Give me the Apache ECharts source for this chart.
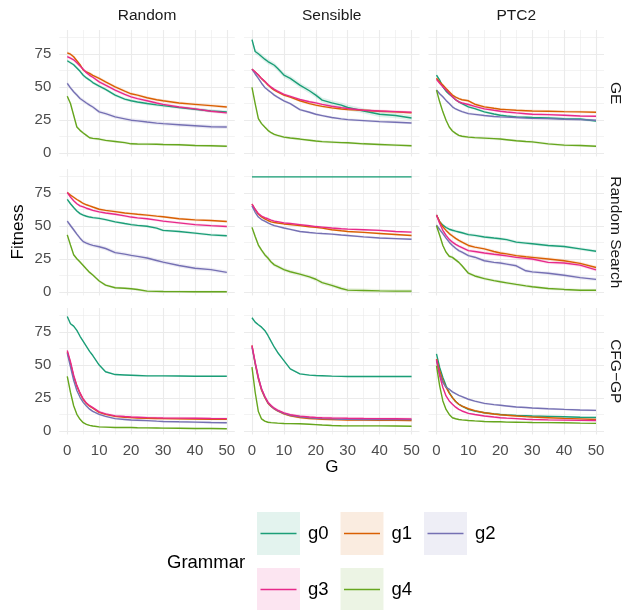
<!DOCTYPE html>
<html><head><meta charset="utf-8">
<script src="https://cdn.jsdelivr.net/npm/echarts@6/dist/echarts.min.js"></script>
<style>html,body{margin:0;padding:0;background:#fff}#c{width:625px;height:610px}</style>
</head><body><div id="c"></div>
<script>
// ---------- data ----------
const generations = [0,1,2,3,4,5,6,7,8,10,12,15,18,20,22,25,28,30,35,40,45,50];
const grammars = ['g0','g1','g2','g3','g4'];
const colors = ['#1B9E77','#D95F02','#7570B3','#E7298A','#66A61E'];
const initMethods = ['Random','Sensible','PTC2'];
const algorithms = ['GE','Random Search','CFG\u2212GP'];
const xTicks = [0,10,20,30,40,50];
const xMinor = [5,15,25,35,45];
const yTicks = [0,25,50,75];
const yMinor = [12.5,37.5,62.5,87.5];

// GE
const ge_random_g0 = [70,68.5,67,64.5,62,59,57,55.4,53.5,50.8,48.3,44,41,39.7,38.8,37.6,36.6,36,34.6,33.3,32,31.3];
const ge_random_g1 = [76,75,73,70,67,63,61.5,60.5,59,56.7,54,50.3,47,45,44,42,40.5,39.7,38,37,36,35];
const ge_random_g2 = [52.9,49.5,46.5,44,41.4,39.7,38,36.4,35,31.3,30,27.5,26,25,24.5,23.6,22.8,22.4,21.6,20.8,20,19.8];
const ge_random_g3 = [73.2,72,70.7,68.5,66,63.6,61,59,57.5,54,51.5,47.8,44.5,42.7,41.3,39.7,38,37,35,33.6,31.8,30.5];
const ge_random_g4 = [43.2,37.6,28.7,19.8,17.3,15.3,13.5,11.7,11.2,10.7,9.7,8.9,8,7.1,7,6.9,6.8,6.6,6.4,5.8,5.6,5.3];
const ge_random_band = [1.2,1.2,1.5,1.2,1];

const ge_sensible_g0 = [86,77,75.3,73.2,71.2,69.4,68,66.6,64.3,59.2,56.7,51.6,47.3,44,40.2,38.1,36.4,34.6,32,29.5,28.5,26.7];
const ge_sensible_g1 = [63.6,61.5,59.2,56.5,54.2,51.6,49.5,47.8,46.5,44,42.5,39.7,37.5,36.4,35.5,34.3,33.5,33,32.5,31.8,31.3,30.5];
const ge_sensible_g2 = [63.6,60,56.7,53,49.8,47.8,46,44,42.5,39.7,37.5,33,31,29.5,28.5,27,26,25.4,24.7,23.9,23.4,22.9];
const ge_sensible_g3 = [63.6,61.5,59.2,56.5,54.5,52,50,48.3,47,44.5,43,40.7,39,38.1,37,35.6,34.5,33.8,32.5,32,31.5,31];
const ge_sensible_g4 = [49.8,37.6,26.2,22.4,19.8,17.3,15.5,14.2,13.5,12.2,11.5,10.7,9.8,9.2,8.8,8.4,8,7.9,7.1,6.6,6.1,5.6];
const ge_sensible_band = [2,1,1,1,1];

const ge_ptc2_g0 = [59.2,55.4,50.3,47,44.7,42.7,40.5,38.9,37.5,35.1,33.8,31.3,29.7,28.7,28.2,27.5,27.2,27,26.7,26.2,25.9,24.4];
const ge_ptc2_g1 = [56.7,54,51.6,49,46.5,44,42.5,41.4,40.5,39.7,37.1,35.1,34,33.3,33,32.5,32.2,32,31.8,31.5,31.3,31];
const ge_ptc2_g2 = [47.8,45,42.7,40,37.6,35.1,33.5,32.5,31.5,30,29.4,28.5,27.8,27.5,27.3,27,26.6,26.4,26.2,25.7,25.4,24.9];
const ge_ptc2_g3 = [55.9,53,50.3,47.8,45.3,42.7,40.5,38.9,38,36.9,35.5,33.6,32.5,31.8,31.2,30.5,29.9,29.5,29.2,28.7,28.2,28];
const ge_ptc2_g4 = [47.8,38.9,31.3,24.9,19.8,16.8,15,13.5,12.8,12.2,11.8,11.4,11,10.7,10.2,9.4,8.9,8.6,7.1,6.1,5.8,5.3];
const ge_ptc2_band = [1,1,1,1,1];

// Random Search
const rs_random_g0 = [70.3,67,64.1,61.5,59.5,58.4,57.5,56.9,56.5,55.9,55,53.3,52,51.2,50.6,49.9,48.5,46.8,46,44.7,43.4,42.7];
const rs_random_g1 = [75.5,73.5,71.9,70.2,68.8,67.2,66.2,65.4,64.5,62.8,62,61,60,59.5,59,58.4,57.6,57.1,55.6,54.8,54.3,53.5];
const rs_random_g2 = [53.8,50.5,47.3,44,40.9,38.3,37.2,36.2,35.5,34.4,33.1,30,28.8,27.9,27.1,25.9,24,22.8,20.2,18.1,17.1,15];
const rs_random_g3 = [75.5,72,69.3,67,65.4,64.6,63.6,62.8,62,60.8,60,59,57.8,56.9,56.3,55.6,54.6,53.8,52.5,51.2,50.4,49.7];
const rs_random_g4 = [43.4,35.7,28.4,25.3,22.8,20.2,17.5,15,13,8.5,5.4,3.4,3,2.6,2,0.8,0.6,0.5,0.4,0.3,0.3,0.3];
const rs_random_band = [1,1,1.5,1,1];

const rs_sensible_g0 = [87.3,87.3,87.3,87.3,87.3,87.3,87.3,87.3,87.3,87.3,87.3,87.3,87.3,87.3,87.3,87.3,87.3,87.3,87.3,87.3,87.3,87.3];
const rs_sensible_g1 = [66.7,62.5,59,57,55.6,54.3,53.3,52.8,52.4,51.7,51.2,50.4,49.6,49.1,48.5,47.3,46.5,46,45.3,44.5,43.7,42.9];
const rs_sensible_g2 = [65.4,60.5,56.9,55,53.8,52.5,51.4,50.4,49.8,48.6,47.6,46,45.2,44.7,44.4,44,43.3,42.9,41.9,41.1,40.6,40.1];
const rs_sensible_g3 = [66.7,62.8,59.5,57.7,56.4,55.6,54.6,53.8,53.4,52.5,52,51.2,50.3,49.7,49.3,48.6,48.1,47.8,47.3,46.8,46,45.5];
const rs_sensible_g4 = [49.1,42.2,35.7,31.8,28.4,25.9,22.8,20.7,19.5,17.1,15.5,13.7,11.6,9.8,7.2,5.2,2.8,1.6,1.3,1,0.8,0.8];
const rs_sensible_band = [0.4,0.8,0.8,0.8,1.5];

const rs_ptc2_g0 = [58.5,53.3,50.8,49,47.7,46.9,46.2,45.6,45,43.6,43,41.8,41,40.5,39.8,37.9,37.2,36.7,35.4,34.6,32.8,31];
const rs_ptc2_g1 = [58.5,53.5,49.5,46.8,44.4,42.6,40.8,39.2,38,35.4,34.1,32.8,30.8,29.7,29,27.7,26.8,26.4,25.1,23.8,21.8,18.7];
const rs_ptc2_g2 = [50.8,47.5,44.4,41,37.9,35.4,33.3,31.5,30.3,27.7,26.5,23.8,22.6,22.1,21.3,20,16.2,15.4,14.4,12.8,11,9.7];
const rs_ptc2_g3 = [58.5,52,46.9,43,40,37.9,36.2,34.9,33.8,31.5,30.8,29.7,28.7,28.2,27.5,26.4,25.6,25.1,22.6,22.1,20.5,16.9];
const rs_ptc2_g4 = [50.3,43.1,35.4,30.3,27.2,26.4,24.5,22.6,20,14.4,12.3,10.3,8.8,7.9,7.1,5.9,4.8,4.1,2.8,2.1,1.5,1.5];
const rs_ptc2_band = [1.2,1.3,1.3,1.3,1.2];

// CFG-GP
const cfg_random_g0 = [86.8,81.4,79.6,76.3,71.9,68.1,64.2,60.4,57.3,50.1,45,42.9,42.6,42.4,42.2,41.9,41.9,41.9,41.8,41.6,41.6,41.6];
const cfg_random_g1 = [60,51.5,41.5,34,28.5,24,21,19,17.5,14.2,12.7,11.2,10.5,10.3,10,9.8,9.6,9.5,9.3,9.2,9.1,9];
const cfg_random_g2 = [59.1,48.8,38.5,30.8,25.7,21.8,19,16.7,15,12.8,11.2,9.5,8.9,8.5,8.3,8,7.6,7.4,7.1,6.9,6.6,6.4];
const cfg_random_g3 = [61.1,52.7,42.4,34.7,29,24.4,21.3,19.3,17.8,14.6,13.1,11.6,11.1,10.8,10.6,10.3,10.1,10,9.9,9.8,9.6,9.5];
const cfg_random_g4 = [41.6,29.5,19.3,12.8,9,6.4,5.2,4.4,3.9,3.3,3.1,2.8,2.8,2.8,2.6,2.5,2.4,2.3,2.2,2.1,2,1.8];
const cfg_random_band = [0.6,0.9,0.9,1,0.6];

const cfg_sensible_g0 = [85.9,82.6,80.6,78.8,76.3,72.5,68,63.6,59.8,53.5,47.2,43.4,42.5,42.2,42,41.7,41.5,41.4,41.4,41.4,41.4,41.4];
const cfg_sensible_g1 = [64.9,51,39.5,31,25.5,21.2,18.7,16.8,15.4,13.2,11.7,10.4,9.6,9.3,9,8.8,8.6,8.5,8.4,8.3,8.2,8.1];
const cfg_sensible_g2 = [63.5,51.5,40.5,31.8,26.2,21.6,19,17,15.6,13.5,12.1,10.9,10.1,9.8,9.5,9.3,9.1,9,8.9,8.9,8.8,8.8];
const cfg_sensible_g3 = [64.9,52.3,40.9,32.1,26.5,22,19.4,17.4,16,13.9,12.5,11.4,10.7,10.4,10.2,10,9.9,9.8,9.6,9.5,9.4,9.3];
const cfg_sensible_g4 = [48.5,29.5,14.9,9.3,7.6,6.8,6.5,6.3,6.1,5.8,5.7,5.6,5.3,5,4.7,4.3,4.1,4,4,4,3.9,3.8];
const cfg_sensible_band = [0.6,0.9,0.9,1.1,0.6];

const cfg_ptc2_g0 = [58.5,48.3,40.7,34.4,29.3,25.4,22.5,20.4,19,16.5,15.2,14,13.1,12.7,12.4,12,11.7,11.5,11.2,10.9,10.6,10.4];
const cfg_ptc2_g1 = [54.7,45.8,38.2,33.1,28.8,25.4,22.5,20.4,19,17,15.6,14,13,12.5,12.1,11.5,11,10.7,10.2,9.7,9.3,8.9];
const cfg_ptc2_g2 = [53.4,43.3,36.9,33.1,31.8,29.8,28.4,27.2,26.2,24.2,22.8,21.1,20.1,19.6,19.1,18.3,17.9,17.6,17,16.5,16.1,15.8];
const cfg_ptc2_g3 = [54.2,42,33.1,26.7,22.9,20.4,18.2,16.5,15.3,13.5,12.6,11.5,10.7,10.2,9.9,9.5,9.1,8.9,8.6,8.4,8.2,8.1];
const cfg_ptc2_g4 = [49.6,34.4,22.9,16.5,12.7,10.2,9.4,8.9,8.6,8.1,7.8,7.4,7.2,7.1,6.9,6.8,6.7,6.6,6.5,6.4,6.1,5.9];
const cfg_ptc2_band = [0.8,0.8,0.8,0.8,0.6];

// ---------- assemble ----------
const panels = [
  [[ge_random_g0,ge_random_g1,ge_random_g2,ge_random_g3,ge_random_g4], ge_random_band],
  [[ge_sensible_g0,ge_sensible_g1,ge_sensible_g2,ge_sensible_g3,ge_sensible_g4], ge_sensible_band],
  [[ge_ptc2_g0,ge_ptc2_g1,ge_ptc2_g2,ge_ptc2_g3,ge_ptc2_g4], ge_ptc2_band],
  [[rs_random_g0,rs_random_g1,rs_random_g2,rs_random_g3,rs_random_g4], rs_random_band],
  [[rs_sensible_g0,rs_sensible_g1,rs_sensible_g2,rs_sensible_g3,rs_sensible_g4], rs_sensible_band],
  [[rs_ptc2_g0,rs_ptc2_g1,rs_ptc2_g2,rs_ptc2_g3,rs_ptc2_g4], rs_ptc2_band],
  [[cfg_random_g0,cfg_random_g1,cfg_random_g2,cfg_random_g3,cfg_random_g4], cfg_random_band],
  [[cfg_sensible_g0,cfg_sensible_g1,cfg_sensible_g2,cfg_sensible_g3,cfg_sensible_g4], cfg_sensible_band],
  [[cfg_ptc2_g0,cfg_ptc2_g1,cfg_ptc2_g2,cfg_ptc2_g3,cfg_ptc2_g4], cfg_ptc2_band]
];

const FONT = '"Liberation Sans", Arial, sans-serif';
const colLeft = [59.3, 244, 428.5];
const rowTop = [30, 169, 308];
const panelW = 175.5, panelH = 126.5;
const X_MIN = -2.5, X_MAX = 52.5, Y_MIN = -2.5, Y_MAX = 93.3;

function hexA(hex, a) {
  const n = parseInt(hex.slice(1), 16);
  return `rgba(${(n>>16)&255},${(n>>8)&255},${n&255},${a})`;
}

const grid = [], xAxis = [], yAxis = [], series = [];
panels.forEach((panel, p) => {
  const r = Math.floor(p / 3), c = p % 3;
  grid.push({left: colLeft[c], top: rowTop[r], width: panelW, height: panelH, containLabel: false});
  const gridLine = {show: true, lineStyle: {color: '#EBEBEB', width: 1.1}};
  const minorLine = {show: true, lineStyle: {color: '#EBEBEB', width: 0.6}};
  xAxis.push({gridIndex: p, type: 'value', min: X_MIN, max: X_MAX,
    axisLine: {show: false}, axisTick: {show: false, customValues: xTicks},
    axisLabel: {show: r === 2, customValues: xTicks, color: '#4D4D4D', fontSize: 15, fontFamily: FONT, margin: 9},
    splitLine: gridLine, z: 0});
  xAxis.push({gridIndex: p, type: 'value', min: X_MIN, max: X_MAX, position: 'bottom',
    axisLine: {show: false}, axisTick: {show: false, customValues: xMinor},
    axisLabel: {show: false, customValues: xMinor}, splitLine: minorLine, z: 0});
  yAxis.push({gridIndex: p, type: 'value', min: Y_MIN, max: Y_MAX,
    axisLine: {show: false}, axisTick: {show: false, customValues: yTicks},
    axisLabel: {show: c === 0, customValues: yTicks, color: '#4D4D4D', fontSize: 15, fontFamily: FONT, margin: 8},
    splitLine: gridLine, z: 0});
  yAxis.push({gridIndex: p, type: 'value', min: Y_MIN, max: Y_MAX, position: 'left',
    axisLine: {show: false}, axisTick: {show: false, customValues: yMinor},
    axisLabel: {show: false, customValues: yMinor}, splitLine: minorLine, z: 0});

  const [vals, bands] = panel;
  vals.forEach((arr, k) => {
    const hw = bands[k];
    const fill = hexA(colors[k], 0.13);
    series.push({type: 'custom', coordinateSystem: 'cartesian2d', xAxisIndex: 2*p, yAxisIndex: 2*p,
      silent: true, z: 1, data: [[generations[0], arr[0]]],
      renderItem: (params, api) => {
        const upper = generations.map((g, i) => api.coord([g, arr[i] + hw]));
        const lower = generations.map((g, i) => api.coord([g, arr[i] - hw])).reverse();
        return {type: 'polygon', shape: {points: upper.concat(lower)}, style: {fill: fill, stroke: null}};
      }});
  });
  vals.forEach((arr, k) => {
    series.push({type: 'line', name: grammars[k], xAxisIndex: 2*p, yAxisIndex: 2*p,
      data: generations.map((g, i) => [g, arr[i]]), showSymbol: false,
      lineStyle: {color: colors[k], width: 1.4}, itemStyle: {color: colors[k]}, z: 2});
  });
});

// ---------- text & legend ----------
const graphic = [];
initMethods.forEach((m, c) => graphic.push({type: 'text', x: colLeft[c] + panelW/2, y: 15.5,
  style: {text: m, fill: '#1A1A1A', font: '15.5px ' + FONT, textAlign: 'center', textVerticalAlign: 'middle'}}));
algorithms.forEach((a, r) => graphic.push({type: 'text', x: 615, y: rowTop[r] + panelH/2, rotation: -Math.PI/2,
  style: {text: a, fill: '#1A1A1A', font: '15.5px ' + FONT, textAlign: 'center', textVerticalAlign: 'middle'}}));
graphic.push({type: 'text', x: 18, y: 232, rotation: Math.PI/2,
  style: {text: 'Fitness', fill: '#000', font: '17px ' + FONT, textAlign: 'center', textVerticalAlign: 'middle'}});
graphic.push({type: 'text', x: colLeft[1] + panelW/2, y: 467,
  style: {text: 'G', fill: '#000', font: '17px ' + FONT, textAlign: 'center', textVerticalAlign: 'middle'}});
graphic.push({type: 'text', x: 167, y: 563,
  style: {text: 'Grammar', fill: '#000', font: '18.5px ' + FONT, textAlign: 'left', textVerticalAlign: 'middle'}});
const keyX = [257, 340.5, 424], keyY = [512, 568], keyS = 43;
grammars.forEach((g, i) => {
  const kx = keyX[i % 3], ky = keyY[Math.floor(i / 3)];
  graphic.push({type: 'rect', shape: {x: kx, y: ky, width: keyS, height: keyS}, style: {fill: hexA(colors[i], 0.12)}});
  graphic.push({type: 'line', shape: {x1: kx + 3.5, y1: ky + keyS/2, x2: kx + keyS - 3.5, y2: ky + keyS/2},
    style: {stroke: colors[i], lineWidth: 1.4}});
  graphic.push({type: 'text', x: kx + 51, y: ky + keyS/2,
    style: {text: g, fill: '#000', font: '18.5px ' + FONT, textAlign: 'left', textVerticalAlign: 'middle'}});
});

const chart = echarts.init(document.getElementById('c'), null, {renderer: 'canvas'});
chart.setOption({animation: false, backgroundColor: '#fff', grid, xAxis, yAxis, series, graphic});
</script></body></html>
